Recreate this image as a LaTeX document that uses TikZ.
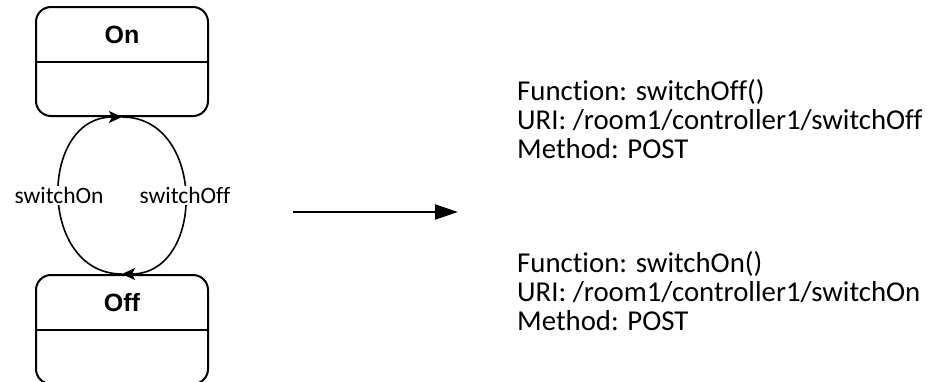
\documentclass[tikz,border=0pt]{standalone}
\usepackage{fontspec}
\setmainfont{Carlito}[Ligatures=NoCommon]
\newfontfamily\titlefont{Liberation Sans}
\usetikzlibrary{arrows.meta,calc}
\begin{document}
\begin{tikzpicture}[x=1pt,y=-1pt,
  statebox/.style={draw, line width=2pt, rounded corners=15pt,
    minimum width=172pt, minimum height=109pt, inner sep=0pt},
  statetitle/.style={font=\titlefont\bfseries\fontsize{25}{28}\selectfont, inner sep=0pt},
  trans/.style={line width=1.6pt, -{Stealth[length=13pt,width=12pt,inset=3pt]}},
  translabel/.style={fill=white, font=\fontsize{23.5}{26}\selectfont, inner sep=1pt},
  infotext/.style={align=left, anchor=north west, inner sep=0pt,
    font=\fontsize{28.8}{29}\selectfont},
  maparrow/.style={line width=2pt, -{Triangle[length=23pt,width=15pt]}}]
\clip (0,0) rectangle (932,381);

% state "On"
\node[statebox] (on) at (122,61.5) {};
\draw[line width=2pt] (on.west) -- (on.east);
\node[statetitle] (ontitle) at ($(on.north)!.5!(on.center)+(0,1)$) {On};

% state "Off"
\node[statebox] (off) at (122,329.5) {};
\draw[line width=2pt] (off.west) -- (off.east);
\node[statetitle] (offtitle) at ($(off.north)!.5!(off.center)+(0,1)$) {Off};

% transitions
\draw[trans] (off.north) to[out=180,in=180,looseness=1.37]
  node[translabel] {switchOn} (on.south);
\draw[trans] (on.south) to[out=0,in=0,looseness=1.37]
  node[translabel] {switchOff} (off.north);

% mapping arrow
\coordinate (mapstart) at (293,212);
\coordinate (mapend) at (458,212);
\draw[maparrow] (mapstart) -- (mapend);

% REST descriptions
\node[infotext] (restoff) at (517,79) {Function: switchOff()\\URI: /room1/controller1/switchOff\\Method: POST};
\node[infotext] (reston) at (517,251) {Function: switchOn()\\URI: /room1/controller1/switchOn\\Method: POST};
\end{tikzpicture}
\end{document}
